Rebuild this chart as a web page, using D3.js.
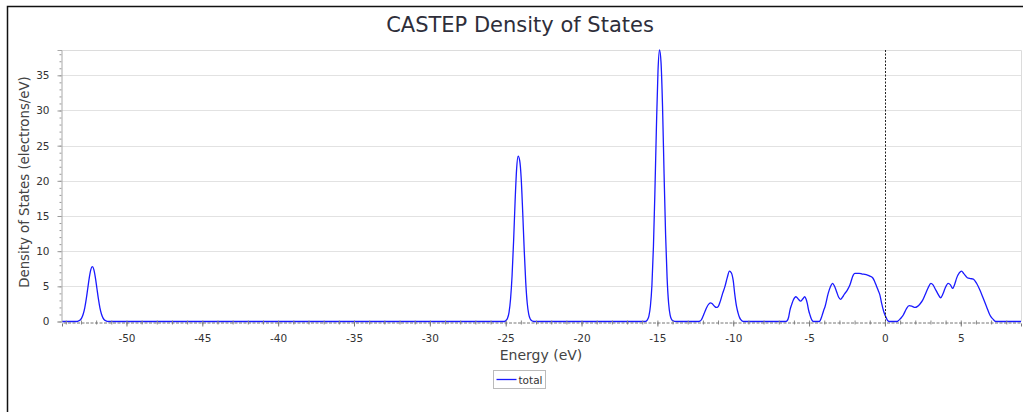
<!DOCTYPE html>
<html>
<head>
<meta charset="utf-8">
<script src="https://cdn.jsdelivr.net/npm/d3@7"></script>
<style>
  html, body { margin: 0; padding: 0; background: #fff; }
  svg { display: block; font-family: "DejaVu Sans", Verdana, sans-serif; }
</style>
</head>
<body>
<svg id="chart" width="1023" height="412"></svg>
<script>
"use strict";

// ── data ──────────────────────────────────────────────────────────────────────
const seriesName = "total";
const energy = [
  -54.25, -53.3,
  -53.15, -53.05, -52.95, -52.85, -52.75, -52.65, -52.55, -52.45, -52.35, -52.25,
  -52.15, -52.05, -51.95, -51.85, -51.75, -51.65, -51.55, -51.45, -51.35, -51.2,
  -25.1, -24.98, -24.88, -24.78, -24.68, -24.58, -24.48, -24.38, -24.28, -24.18, -24.08,
  -23.98, -23.88, -23.78, -23.68, -23.58, -23.48, -23.38, -23.28, -23.18, -23.05,
  -15.8, -15.66, -15.56, -15.46, -15.36, -15.26, -15.16, -15.06, -14.96, -14.86, -14.76,
  -14.66, -14.56, -14.46, -14.36, -14.26, -14.16, -14.06, -13.96, -13.86, -13.7,
  -12.3, -12.2, -12.1, -12.0, -11.87, -11.75, -11.6, -11.5, -11.4, -11.25, -11.12,
  -11.0, -10.85, -10.7, -10.55, -10.4, -10.25, -10.12, -10.0, -9.9, -9.78, -9.68,
  -9.58, -9.5, -9.4, -9.3,
  -6.55, -6.45, -6.35, -6.26, -6.15, -6.04, -5.87, -5.7, -5.56, -5.42, -5.29,
  -5.2, -5.12, -5.03, -4.94, -4.85, -4.77, -4.7,
  -4.35, -4.28, -4.15, -4.05, -3.95, -3.74, -3.6, -3.45, -3.32, -3.18, -3.05, -2.92,
  -2.8, -2.7, -2.48, -2.31, -2.09, -1.98, -1.7, -1.5, -1.32, -1.15, -0.99, -0.81,
  -0.68, -0.54, -0.43, -0.33, -0.22, -0.07, 0.07, 0.17, 0.27,
  0.8, 0.88, 1.0, 1.1, 1.21, 1.32, 1.43, 1.6, 1.8, 1.98, 2.15, 2.31, 2.48, 2.64,
  2.85, 3.03, 3.17, 3.3, 3.5, 3.67, 3.82, 3.96, 4.17, 4.32, 4.46, 4.6, 4.72, 4.9,
  5.05, 5.2, 5.43, 5.63, 5.83, 6.05, 6.26, 6.48, 6.7, 6.92, 7.03, 7.14, 7.25, 7.35,
  8.97
];
const dos = [
  0, 0,
  0.09, 0.22, 0.51, 1.06, 1.95, 3.21, 4.73, 6.25, 7.38, 7.8,
  7.38, 6.25, 4.73, 3.21, 1.95, 1.06, 0.51, 0.22, 0.09, 0,
  0, 0.14, 0.47, 1.3, 3.2, 6.5, 11.4, 17.1, 21.7, 23.5, 22.9,
  20.4, 15.6, 10.2, 5.6, 2.6, 1.0, 0.35, 0.1, 0.03, 0,
  0, 0.23, 0.76, 2.2, 5.2, 10.7, 18.8, 28.0, 35.6, 38.6, 36.8,
  30.5, 21.0, 12.4, 6.2, 2.6, 0.9, 0.28, 0.08, 0.02, 0,
  0, 0.05, 0.25, 0.7, 1.4, 2.0, 2.5, 2.65, 2.55, 2.2, 2.0,
  2.1, 2.9, 4.0, 4.95, 6.2, 7.17, 6.9, 5.8, 3.9, 2.1, 1.2,
  0.55, 0.25, 0.05, 0,
  0, 0.1, 0.6, 1.63, 2.4, 3.05, 3.52, 3.15, 2.9, 3.2, 3.52,
  3.2, 2.58, 1.6, 0.92, 0.35, 0.08, 0,
  0, 0.1, 0.8, 1.5, 2.1, 4.0, 4.9, 5.43, 5.0, 4.2, 3.45, 3.15,
  3.45, 3.8, 4.47, 5.2, 6.6, 6.85, 6.85, 6.75, 6.7, 6.6, 6.46, 6.22,
  5.7, 4.95, 4.35, 3.76, 2.6, 1.35, 0.6, 0.15, 0,
  0, 0.1, 0.35, 0.6, 0.92, 1.4, 1.87, 2.25, 2.15, 2.0, 2.15, 2.49, 3.0, 3.76,
  4.8, 5.43, 5.2, 4.7, 3.9, 3.38, 3.9, 4.7, 5.43, 5.2, 4.7, 5.3, 6.13, 6.9,
  7.17, 6.8, 6.22, 6.1, 6.04, 5.4, 4.47, 3.3, 2.1, 0.92, 0.55, 0.3, 0.06, 0,
  0
];
const xTicks = [-50, -45, -40, -35, -30, -25, -20, -15, -10, -5, 0, 5];
const yTicks = [0, 5, 10, 15, 20, 25, 30, 35];
const xDomain = [-54.25, 8.97];
const yDomain = [0, 38.6];
const fermiLevel = 0;

// ── layout ────────────────────────────────────────────────────────────────────
const W = 1023, H = 412;
const plot = { left: 62, right: 1021, top: 50, bottom: 321.5 };
const tickFont = "Tahoma, 'DejaVu Sans', Verdana, sans-serif";

const svg = d3.select("#chart");

const x = d3.scaleLinear().domain(xDomain).range([plot.left, plot.right]);
const y = d3.scaleLinear().domain(yDomain).range([plot.bottom, plot.top]);

// outer frame (left + top edge only visible)
svg.append("path")
  .attr("d", `M7.5,${H} V6.5 H${W}`)
  .attr("fill", "none")
  .attr("stroke", "#111")
  .attr("stroke-width", 1.5);

// title
svg.append("text")
  .attr("x", 520).attr("y", 32)
  .attr("text-anchor", "middle")
  .attr("font-size", 21)
  .attr("fill", "#2e2e3a")
  .text("CASTEP Density of States");

// plot border (top + right, light)
svg.append("path")
  .attr("d", `M${plot.left},${plot.top + 0.5} H${plot.right + 0.5} V${plot.bottom}`)
  .attr("fill", "none")
  .attr("stroke", "#dcdcdc");

// horizontal grid
svg.append("g")
  .selectAll("line")
  .data(yTicks.filter(d => d > 0))
  .join("line")
  .attr("x1", plot.left).attr("x2", plot.right)
  .attr("y1", d => Math.round(y(d)) + 0.5)
  .attr("y2", d => Math.round(y(d)) + 0.5)
  .attr("stroke", "#e2e2e2");

// curve
const line = d3.line()
  .x((d, i) => x(energy[i]))
  .y(d => y(d))
  .curve(d3.curveMonotoneX);

svg.append("path")
  .datum(dos)
  .attr("fill", "none")
  .attr("stroke", "#1a1aff")
  .attr("stroke-width", 1.3)
  .attr("stroke-linejoin", "round")
  .attr("d", line);

// fermi level
svg.append("line")
  .attr("x1", Math.round(x(fermiLevel)) + 0.5)
  .attr("x2", Math.round(x(fermiLevel)) + 0.5)
  .attr("y1", plot.top).attr("y2", plot.bottom)
  .attr("stroke", "#222")
  .attr("stroke-dasharray", "2,1.5");

// ── axes ──────────────────────────────────────────────────────────────────────
const minorX = d3.range(Math.ceil(xDomain[0]), Math.floor(xDomain[1]) + 1);
const minorY = d3.range(0, Math.floor(yDomain[1]) + 1);
const plain = d => String(d);

// x axis
svg.append("g")
  .attr("transform", `translate(0,${Math.round(plot.bottom) + 0.5})`)
  .call(d3.axisBottom(x).tickValues(minorX).tickSize(2).tickFormat(""))
  .call(ax => {
    ax.select(".domain").remove();
    ax.selectAll(".tick line").attr("stroke", "#888").attr("y1", -2);
  });
svg.append("g")
  .attr("transform", `translate(0,${Math.round(plot.bottom) + 0.5})`)
  .call(d3.axisBottom(x).tickValues(xTicks).tickSize(4).tickPadding(8).tickFormat(plain))
  .call(ax => {
    ax.select(".domain")
      .attr("stroke", "#777")
      .attr("stroke-dasharray", "3,1.5");
    ax.selectAll(".tick line").attr("stroke", "#777");
    ax.selectAll("text")
      .attr("fill", "#333")
      .attr("font-size", 10.5)
      .attr("font-family", tickFont);
  });

// y axis
svg.append("g")
  .attr("transform", `translate(${plot.left - 0.5},0)`)
  .call(d3.axisLeft(y).tickValues(minorY).tickSize(2).tickFormat(""))
  .call(ax => {
    ax.select(".domain").remove();
    ax.selectAll(".tick line").attr("stroke", "#999");
  });
svg.append("g")
  .attr("transform", `translate(${plot.left - 0.5},0)`)
  .call(d3.axisLeft(y).tickValues(yTicks).tickSize(4).tickPadding(8).tickFormat(plain))
  .call(ax => {
    ax.select(".domain").attr("stroke", "#aaa");
    ax.selectAll(".tick line").attr("stroke", "#999");
    ax.selectAll("text")
      .attr("fill", "#333")
      .attr("font-size", 10.5)
      .attr("font-family", tickFont);
  });

// axis titles
svg.append("text")
  .attr("x", 541).attr("y", 360)
  .attr("text-anchor", "middle")
  .attr("font-size", 14)
  .attr("fill", "#444")
  .text("Energy (eV)");

svg.append("text")
  .attr("transform", "translate(29,182) rotate(-90)")
  .attr("text-anchor", "middle")
  .attr("font-size", 13.3)
  .attr("fill", "#444")
  .text("Density of States (electrons/eV)");

// ── legend ────────────────────────────────────────────────────────────────────
const lg = svg.append("g").attr("transform", "translate(493.5,370.5)");
lg.append("rect")
  .attr("width", 52).attr("height", 18)
  .attr("fill", "#fff")
  .attr("stroke", "#bbb");
lg.append("line")
  .attr("x1", 3).attr("x2", 23)
  .attr("y1", 9).attr("y2", 9)
  .attr("stroke", "#1a1aff")
  .attr("stroke-width", 1.3);
lg.append("text")
  .attr("x", 25).attr("y", 13)
  .attr("font-size", 10.5)
  .attr("fill", "#333")
  .attr("font-family", tickFont)
  .text(seriesName);
</script>
</body>
</html>
